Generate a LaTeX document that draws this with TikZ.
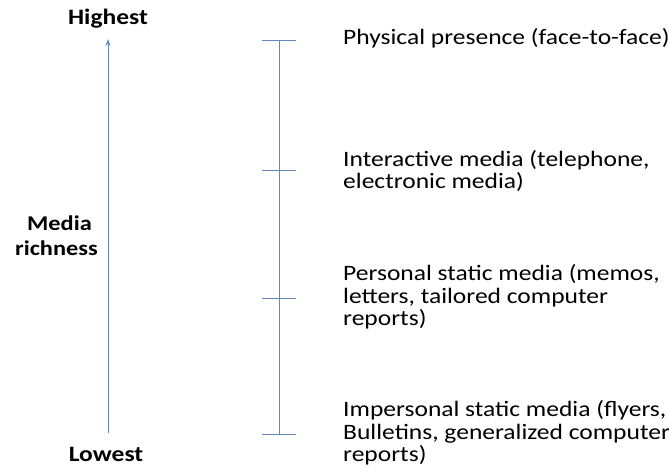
\documentclass[tikz,border=0pt]{standalone}
\usepackage{fontspec}
\setmainfont{Carlito}[FakeStretch=1.16]
\usetikzlibrary{arrows.meta}
\definecolor{axisblue}{RGB}{100,135,190}
\tikzset{
  x=1pt,y=1pt,
  lbl/.style={font=\fontsize{22}{22.5}\selectfont, inner sep=0pt, anchor=west, align=left},
  endlbl/.style={font=\fontsize{22}{25}\selectfont\bfseries, inner sep=0pt, align=center},
  axisline/.style={draw=axisblue, line width=1pt},
}
\begin{document}
\begin{tikzpicture}
\useasboundingbox (0,0) rectangle (669,-471);
% left arrow
\node[endlbl] (high) at (108,-19) {Highest};
\node[endlbl] (low) at (106,-454) {Lowest};
\node[endlbl, align=right, anchor=east, font=\fontsize{21}{25}\selectfont\bfseries] (rich) at (98,-236) {Media\hspace*{6pt}\\richness};
\coordinate (abot) at (108,-433);
\coordinate (atop) at (108,-39);
\draw[axisline, -{Stealth[length=7pt,width=5pt]}] (abot) -- (atop);
% scale
\coordinate (s1) at (279,-40);
\coordinate (s2) at (279,-170);
\coordinate (s3) at (279,-298);
\coordinate (s4) at (279,-434);
\draw[axisline] (s1) -- (s4);
\foreach \s in {s1,s2,s3,s4}{
  \draw[axisline] ([xshift=-17pt]\s) -- ([xshift=17pt]\s);
}
\node[lbl] (t1) at (343,-38) {Physical presence (face-to-face)};
\node[lbl] (t2) at (343,-171) {Interactive media (telephone,\\electronic media)};
\node[lbl] (t3) at (343,-297) {Personal static media (memos,\\letters, tailored computer\\reports)};
\node[lbl] (t4) at (343,-433) {Impersonal static media (flyers,\\Bulletins, generalized computer\\reports)};
\end{tikzpicture}
\end{document}
